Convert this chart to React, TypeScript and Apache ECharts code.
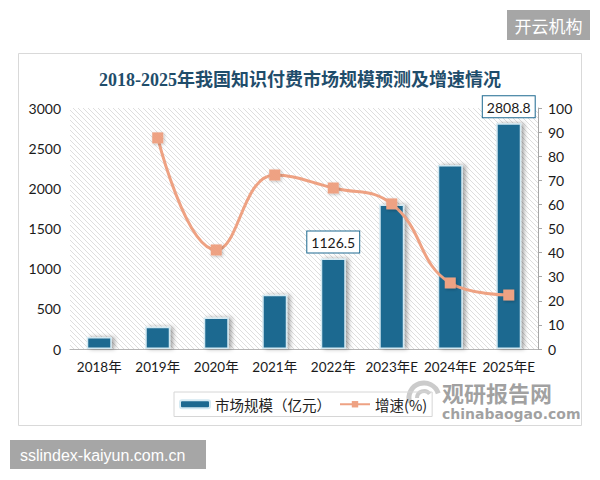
import React, { useEffect, useRef } from "react";
import * as echarts from "echarts";

const years = ["2018年", "2019年", "2020年", "2021年", "2022年", "2023年E", "2024年E", "2025年E"];
const marketSize = [148, 278, 392, 675, 1126.5, 1800, 2290, 2808.8];
const growthRate = [null, 87.6, 41.1, 72.2, 66.8, 60.2, 27.4, 22.4];
const labelledYears = ["2022年", "2025年E"];
const leftTicks = { min: 0, max: 3000, interval: 500 };
const rightTicks = { min: 0, max: 100, interval: 10 };

const titleText = "2018-2025年我国知识付费市场规模预测及增速情况";
const barName = "市场规模（亿元）";
const lineName = "增速(%)";

const BAR = "#1c6990";
const LINE = "#eea283";
const AXIS_FONT = 'Lato, "Noto Sans CJK SC", sans-serif';

// small diagonal hatch tile for the plot background
function makeHatch(): string {
  const c = document.createElement("canvas");
  c.width = 5;
  c.height = 5;
  const ctx = c.getContext("2d")!;
  ctx.fillStyle = "#ffffff";
  ctx.fillRect(0, 0, 5, 5);
  ctx.strokeStyle = "#dedede";
  ctx.lineWidth = 1;
  for (let x = -5; x <= 5; x += 5) {
    ctx.beginPath();
    ctx.moveTo(x, 0);
    ctx.lineTo(x + 5, 5);
    ctx.stroke();
  }
  return c.toDataURL();
}

export default function App() {
  const ref = useRef<HTMLDivElement>(null);

  useEffect(() => {
    if (!ref.current) return;
    const chart = echarts.init(ref.current, null, { renderer: "svg" });

    const barData = marketSize.map((v, i) => {
      const shown = labelledYears.includes(years[i]);
      return {
        value: v,
        label: {
          show: shown,
          position: "top",
          distance: 6,
          formatter: "{c}",
          backgroundColor: "#ffffff",
          borderColor: BAR,
          borderWidth: 1,
          padding: [4, 4, 3, 4],
          color: "#1a1a1a",
          fontSize: 14,
          fontFamily: AXIS_FONT,
        },
      };
    });

    chart.setOption({
      animation: false,
      backgroundColor: "#ffffff",
      title: {
        text: titleText,
        left: "center",
        top: 66,
        textStyle: {
          fontSize: 18,
          fontWeight: "bold",
          color: "#1f4d6b",
          fontFamily: '"Liberation Serif", "Noto Sans CJK SC", serif',
        },
      },
      grid: {
        left: 70,
        right: 62,
        top: 108,
        bottom: 131,
        show: true,
        borderWidth: 0,
        backgroundColor: {
          image: makeHatch(),
          repeat: "repeat",
          imageWidth: 5,
          imageHeight: 5,
        },
      },
      legend: {
        top: 392,
        left: 174,
        itemWidth: 30,
        itemHeight: 8,
        itemGap: 8,
        padding: [5, 5, 5, 5],
        borderColor: "#d6d6d6",
        borderWidth: 1,
        textStyle: { fontSize: 14.5, color: "#222", fontFamily: '"Noto Sans CJK SC", sans-serif' },
        data: [barName, lineName],
      },
      xAxis: {
        type: "category",
        data: years,
        axisLine: { lineStyle: { color: "#b5b5b5" } },
        axisTick: { show: false },
        axisLabel: { color: "#1a1a1a", fontSize: 13.5, margin: 11, interval: 0, fontFamily: AXIS_FONT },
      },
      yAxis: [
        {
          type: "value",
          ...leftTicks,
          splitLine: { show: false },
          axisLine: { show: false },
          axisTick: { show: false },
          axisLabel: {
            color: "#1a1a1a",
            fontSize: 14,
            margin: 9,
            fontFamily: AXIS_FONT,
            formatter: (v: number) => String(v),
          },
        },
        {
          type: "value",
          ...rightTicks,
          position: "right",
          splitLine: { show: false },
          axisLine: { show: true, lineStyle: { color: "#a8a8a8" } },
          axisTick: { show: true, length: 4, lineStyle: { color: "#a8a8a8" } },
          axisLabel: {
            color: "#1a1a1a",
            fontSize: 14,
            margin: 10,
            fontFamily: AXIS_FONT,
            formatter: (v: number) => String(v),
          },
        },
      ],
      series: [
        {
          name: barName,
          type: "bar",
          yAxisIndex: 0,
          barWidth: 25,
          data: barData,
          itemStyle: {
            color: BAR,
            borderColor: "#d3e9f2",
            borderWidth: 1.5,
            shadowColor: "rgba(0,0,0,0.35)",
            shadowBlur: 4,
            shadowOffsetX: 3,
            shadowOffsetY: 0,
          },
        },
        {
          name: lineName,
          type: "line",
          yAxisIndex: 1,
          smooth: 0.45,
          data: growthRate,
          symbol: "rect",
          symbolSize: 11,
          lineStyle: { color: LINE, width: 3 },
          itemStyle: {
            color: LINE,
            shadowColor: "rgba(0,0,0,0.25)",
            shadowBlur: 3,
            shadowOffsetX: 1,
            shadowOffsetY: 1,
          },
        },
      ],
      graphic: [
        {
          type: "rect",
          z: -1,
          shape: { x: 18.5, y: 53.5, width: 563, height: 372 },
          style: { fill: "none", stroke: "#d9d9d9", lineWidth: 1 },
        },
        {
          type: "group",
          left: 507,
          top: 10,
          children: [
            { type: "rect", shape: { x: 0, y: 0, width: 83, height: 30 }, style: { fill: "#a6a6a6" } },
            {
              type: "text",
              x: 41.5,
              y: 15,
              style: {
                text: "开云机构",
                fill: "#ffffff",
                fontSize: 17,
                fontFamily: '"Noto Sans CJK SC", sans-serif',
                align: "center",
                verticalAlign: "middle",
              },
            },
          ],
        },
        {
          type: "group",
          left: 10,
          top: 440,
          children: [
            { type: "rect", shape: { x: 0, y: 0, width: 196, height: 29 }, style: { fill: "#a6a6a6" } },
            {
              type: "text",
              x: 10,
              y: 15,
              style: {
                text: "sslindex-kaiyun.com.cn",
                fill: "#ffffff",
                fontSize: 16,
                fontFamily: '"Liberation Sans", Arial, sans-serif',
                verticalAlign: "middle",
              },
            },
          ],
        },
        {
          type: "group",
          z: 100,
          children: [
            {
              type: "arc",
              shape: { cx: 424, cy: 398, r: 15, startAngle: Math.PI * 0.9, endAngle: Math.PI * 1.9 },
              style: { stroke: "rgba(140,140,140,0.45)", lineWidth: 5, fill: "none" },
            },
            {
              type: "arc",
              shape: { cx: 424, cy: 398, r: 7, startAngle: Math.PI * 1.0, endAngle: Math.PI * 1.8 },
              style: { stroke: "rgba(140,140,140,0.45)", lineWidth: 4, fill: "none" },
            },
            {
              type: "text",
              x: 442,
              y: 391.5,
              style: {
                text: "观研报告网",
                fill: "rgba(125,125,125,0.72)",
                fontSize: 22,
                fontWeight: "bold",
                fontFamily: '"Noto Sans CJK SC", sans-serif',
                verticalAlign: "middle",
              },
            },
            {
              type: "text",
              x: 442,
              y: 413.5,
              style: {
                text: "chinabaogao.com",
                fill: "rgba(125,125,125,0.72)",
                fontSize: 14,
                fontWeight: "bold",
                fontFamily: '"DejaVu Sans", sans-serif',
                verticalAlign: "middle",
              },
            },
          ],
        },
      ],
    });

    return () => chart.dispose();
  }, []);

  return <div ref={ref} style={{ width: 600, height: 480, position: "absolute", left: 0, top: 0 }} />;
}
